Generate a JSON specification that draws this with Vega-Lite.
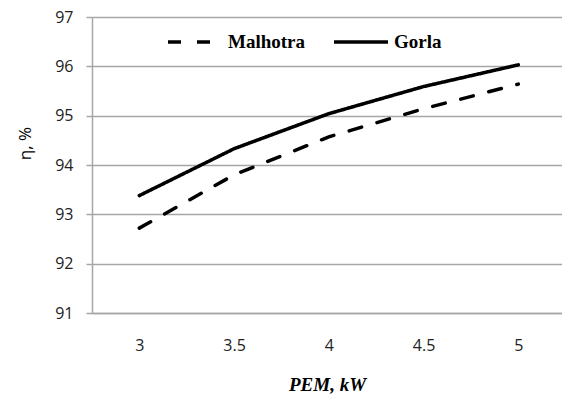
{
  "$schema": "https://vega.github.io/schema/vega-lite/v6.json",
  "width": 470,
  "height": 296,
  "autosize": {"type": "none"},
  "padding": {"left": 92, "top": 17, "right": 0, "bottom": 83},
  "background": "white",
  "config": {"view": {"stroke": null}},
  "data": {
    "values": [
      {"p": "3", "model": "Malhotra", "eta": 92.72},
      {"p": "3.5", "model": "Malhotra", "eta": 93.8},
      {"p": "4", "model": "Malhotra", "eta": 94.57},
      {"p": "4.5", "model": "Malhotra", "eta": 95.14},
      {"p": "5", "model": "Malhotra", "eta": 95.64},
      {"p": "3", "model": "Gorla", "eta": 93.38},
      {"p": "3.5", "model": "Gorla", "eta": 94.33},
      {"p": "4", "model": "Gorla", "eta": 95.04},
      {"p": "4.5", "model": "Gorla", "eta": 95.59},
      {"p": "5", "model": "Gorla", "eta": 96.03}
    ]
  },
  "mark": {"type": "line", "strokeWidth": 3.5, "color": "black", "strokeCap": "round"},
  "encoding": {
    "x": {
      "field": "p",
      "type": "ordinal",
      "sort": null,
      "scale": {"type": "point", "padding": 0.48, "align": 0.52},
      "axis": {
        "title": "PEM, kW",
        "titleFont": "Liberation Serif",
        "titleFontWeight": "bold",
        "titleFontStyle": "italic",
        "titleFontSize": 19,
        "titleColor": "black",
        "titlePadding": 22,
        "labelFont": "Open Sans",
        "labelFontSize": 16,
        "labelColor": "#222",
        "labelAngle": 0,
        "labelPadding": 24,
        "ticks": false,
        "tickSize": 0,
        "domainColor": "#a6a6a6",
        "domainWidth": 1.5,
        "grid": false
      }
    },
    "y": {
      "field": "eta",
      "type": "quantitative",
      "scale": {"domain": [91, 97], "zero": false, "nice": false},
      "axis": {
        "title": "η, %",
        "values": [91, 92, 93, 94, 95, 96, 97],
        "titleFont": "Open Sans",
        "titleFontWeight": "normal",
        "titleFontSize": 17,
        "titleColor": "black",
        "titlePadding": 20,
        "titleY": 126,
        "labelFont": "Open Sans",
        "labelFontSize": 16,
        "labelColor": "#222",
        "labelPadding": 13,
        "tickSize": 6,
        "tickColor": "#a6a6a6",
        "tickWidth": 1.5,
        "domainColor": "#a6a6a6",
        "domainWidth": 1.5,
        "grid": true,
        "gridColor": "#a6a6a6",
        "gridWidth": 1.5
      }
    },
    "strokeDash": {
      "field": "model",
      "type": "nominal",
      "scale": {"domain": ["Malhotra", "Gorla"], "range": [[13, 16], [1, 0]]},
      "legend": {
        "title": null,
        "orient": "none",
        "direction": "horizontal",
        "legendX": 74,
        "legendY": -4,
        "symbolType": "stroke",
        "symbolSize": 2916,
        "symbolStrokeWidth": 3.5,
        "symbolStrokeColor": "black",
        "labelFont": "Liberation Serif",
        "labelFontWeight": "bold",
        "labelFontSize": 19,
        "labelColor": "black",
        "labelOffset": 4,
        "columnPadding": 21
      }
    }
  }
}
